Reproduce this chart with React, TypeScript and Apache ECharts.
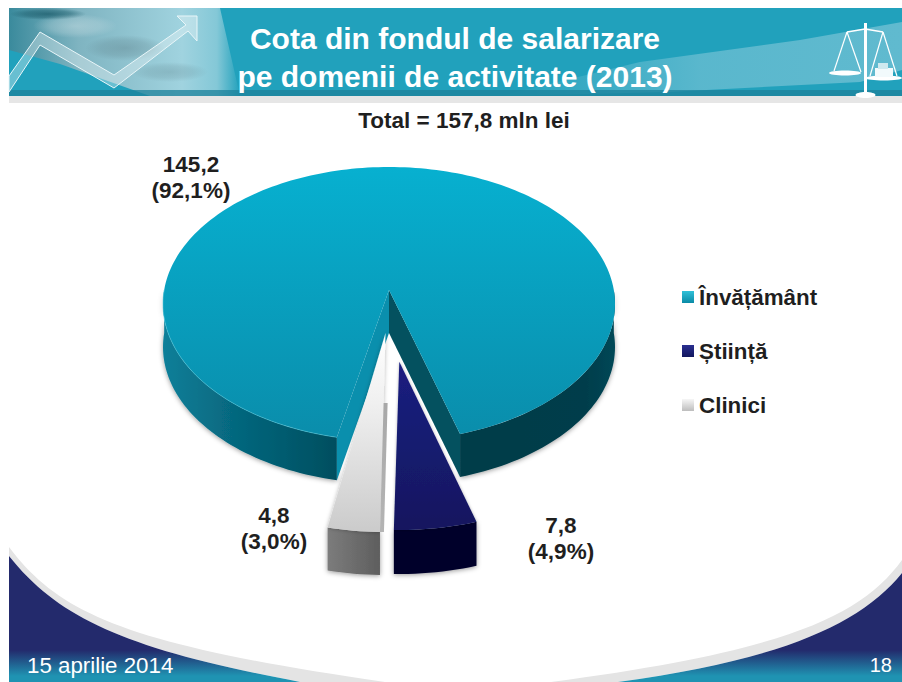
import React, { useEffect, useRef } from "react";
import * as echarts from "echarts";

const categories = ["Învățământ", "Știință", "Clinici"];
const values = [145.2, 7.8, 4.8];
const shareLabels = ["92,1%", "4,9%", "3,0%"];
const valueLabels = ["145,2", "7,8", "4,8"];
const titleLines = ["Cota din fondul de salarizare", "pe domenii de activitate (2013)"];
const subtitle = "Total = 157,8 mln lei";
const footerDate = "15 aprilie 2014";
const footerPage = "18";

const FONT = '"Liberation Sans", Arial, sans-serif';
const START_ANGLE = 192.1;
const RX = 226;
const RY = 137;

const sliceLayout = [
  { ax: 389, ay: 290, cy: 304, squash: 0.606, h: 43 },
  { ax: 399.3, ay: 361.7, cy: 393, squash: 0.62, h: 44 },
  { ax: 385.5, ay: 333, cy: 395, squash: 0.72, h: 43 },
];
const labelPos = [
  { x: 191, y: 177 },
  { x: 561, y: 538 },
  { x: 274, y: 528 },
];

const lin = (x: number, y: number, x2: number, y2: number, stops: [number, string][]) => ({
  type: "linear",
  x,
  y,
  x2,
  y2,
  colorStops: stops.map(([offset, color]) => ({ offset, color })),
});
const glow = (color: string, a: number) => ({
  type: "radial",
  x: 0.5,
  y: 0.5,
  r: 0.5,
  colorStops: [
    { offset: 0, color: `rgba(${color},${a})` },
    { offset: 0.6, color: `rgba(${color},${a * 0.6})` },
    { offset: 1, color: `rgba(${color},0)` },
  ],
});

const topFills = [
  lin(0, 0, 0, 1, [[0, "#07b0d0"], [1, "#0a8dab"]]),
  lin(0, 0, 0, 1, [[0, "#1b1f80"], [1, "#12175f"]]),
  lin(0, 0, 0, 1, [[0, "#ffffff"], [0.35, "#f0f0f0"], [1, "#cbcbcb"]]),
];
const legendFills = [
  lin(0, 0, 0, 1, [[0, "#30c0d8"], [1, "#0a8aa6"]]),
  lin(0, 0, 0, 1, [[0, "#2a2f90"], [1, "#12175f"]]),
  lin(0, 0, 0, 1, [[0, "#f6f6f6"], [1, "#bdbdbd"]]),
];

const total = values.reduce((a, b) => a + b, 0);

function rim(i: number, deg: number): [number, number] {
  const s = sliceLayout[i];
  const r = (deg * Math.PI) / 180;
  const dx = Math.sin(r);
  const dy = -Math.cos(r) * s.squash;
  const oy = s.ay - s.cy;
  const A = (dx * dx) / (RX * RX) + (dy * dy) / (RY * RY);
  const B = (2 * oy * dy) / (RY * RY);
  const C = (oy * oy) / (RY * RY) - 1;
  const t = (-B + Math.sqrt(B * B - 4 * A * C)) / (2 * A);
  return [s.ax + t * dx, s.ay + t * dy];
}

function arc(i: number, a: number, b: number): [number, number][] {
  const out: [number, number][] = [];
  const n = Math.max(2, Math.ceil((b - a) / 1.5));
  for (let k = 0; k <= n; k++) out.push(rim(i, a + ((b - a) * k) / n));
  return out;
}

function wall(i: number, a: number, b: number): number[][] {
  const h = sliceLayout[i].h;
  const top = arc(i, a, b);
  return [...top, ...top.slice().reverse().map(([x, y]) => [x, y + h])];
}

const shadow = { shadowColor: "rgba(0,0,0,0.4)", shadowBlur: 5, shadowOffsetY: 1 };

function renderSlice(i: number) {
  return (_params: any, api: any) => {
    let before = 0;
    for (let k = 0; k < i; k++) before += values[k];
    const from = START_ANGLE + (before / total) * 360;
    const to = from + (Number(api.value(0)) / total) * 360;
    const s = sliceLayout[i];
    const children: any[] = [];
    const poly = (points: number[][], style: any) =>
      children.push({ type: "polygon", shape: { points }, style });

    if (i === 0) {
      const end = to;
      const endPt = rim(0, end);
      const startPt = rim(0, from);
      poly(wall(0, from, 270), { fill: lin(0, 0, 1, 0, [[0, "#0c7f99"], [0.4, "#06687f"], [1, "#024e5f"]]), ...shadow });
      poly(wall(0, 450, end), { fill: lin(0, 0, 1, 0, [[0, "#033c49"], [0.8, "#033d4b"], [1, "#044756"]]), ...shadow });
      poly(
        [[s.ax, s.ay], startPt, [startPt[0], startPt[1] + s.h], [s.ax, s.ay + s.h]],
        { fill: "#0a8fad" }
      );
      poly(
        [[s.ax, s.ay], endPt, [endPt[0], endPt[1] + s.h], [s.ax, s.ay + s.h]],
        { fill: "#04515f" }
      );
      poly([[s.ax, s.ay], ...arc(0, from, to)], { fill: topFills[0] });
      children.push({
        type: "polyline",
        shape: { points: arc(0, from, 270) },
        style: { stroke: "rgba(80,200,220,0.55)", lineWidth: 1, fill: "none" },
      });
    } else {
      poly(wall(i, from, to), {
        fill: i === 1 ? lin(0, 0, 1, 0, [[0, "#04042c"], [1, "#03032a"]]) : lin(0, 0, 1, 0, [[0, "#7c7c7c"], [1, "#5e5e5e"]]),
        ...shadow,
      });
      poly([[s.ax, s.ay], ...arc(i, from, to)], { fill: topFills[i], ...(i === 2 ? { shadowColor: "rgba(0,0,0,0.3)", shadowBlur: 4 } : { shadowColor: "rgba(0,0,0,0.3)", shadowBlur: 3 }) });
      if (i === 2) {
        const c = rim(2, from);
        poly(
          [[383.6, 403], [387.6, 403], [c[0] + 4, c[1]], c],
          { fill: lin(0, 0, 0, 1, [[0, "#a8a8a8"], [1, "#b4b4b4"]]) }
        );
      }
    }
    children.push({
      type: "text",
      style: {
        text: `${valueLabels[i]}\n(${shareLabels[i]})`,
        x: labelPos[i].x,
        y: labelPos[i].y,
        align: "center",
        verticalAlign: "middle",
        fontFamily: FONT,
        fontWeight: "bold",
        fontSize: 22.5,
        lineHeight: 26,
        fill: "#1f1f1f",
      },
    });
    return { type: "group", children };
  };
}

echarts.graphic.registerShape("cornerLeft", echarts.graphic.extendPath("M9 556 C60 620 130 650 300 682 L9 682 Z", {}) as any);
echarts.graphic.registerShape("edgeLeft", echarts.graphic.extendPath("M9 547 C60 615 130 645 385 682 L300 682 C130 650 60 620 9 556 Z", {}) as any);
echarts.graphic.registerShape("cornerRight", echarts.graphic.extendPath("M902 573 C860 625 780 660 618 682 L902 682 Z", {}) as any);
echarts.graphic.registerShape("edgeRight", echarts.graphic.extendPath("M902 560 C860 618 780 652 551 682 L618 682 C780 660 860 625 902 573 Z", {}) as any);

const footerFill = { type: "linear", global: true, x: 0, y: 650, x2: 0, y2: 676, colorStops: [{ offset: 0, color: "#232a6c" }, { offset: 1, color: "#1f93b2" }] };

function txt(text: string, x: number, y: number, size: number, weight: string, fill: string, align = "center") {
  return {
    type: "text",
    z: 5,
    style: { text, x, y, align, verticalAlign: "middle", fontFamily: FONT, fontWeight: weight, fontSize: size, fill },
  };
}

const line = (pts: number[][], w = 1.2) => ({
  type: "polyline",
  z: 3,
  shape: { points: pts },
  style: { stroke: "#fff", lineWidth: w, fill: "none" },
});

const backdrop: any[] = [
  { type: "rect", z: 0, shape: { x: 9, y: 8, width: 893, height: 88 }, style: { fill: "#21a1bc" } },
  { type: "polygon", z: 1, shape: { points: [[500, 96], [668, 92], [860, 82], [902, 70], [902, 22], [800, 40], [640, 62]] }, style: { fill: lin(0, 0, 1, 0, [[0, "rgba(96,186,207,0)"], [0.5, "rgba(96,186,207,0.9)"], [1, "rgba(96,186,207,1)"]]) } },
  { type: "polygon", z: 1, shape: { points: [[9, 8], [220, 8], [240, 96], [150, 96], [60, 64], [9, 50]] }, style: { fill: lin(0, 0, 1, 0, [[0, "#3a8a9c"], [0.3, "#7fb4c1"], [0.75, "#a0d3df"], [0.9, "#84c8d7"], [1, "#21a1bc"]]) } },
  { type: "ellipse", z: 1, shape: { cx: 48, cy: 14, rx: 38, ry: 6 }, style: { fill: glow("20,85,100", 0.7) } },
  { type: "ellipse", z: 1, shape: { cx: 75, cy: 26, rx: 42, ry: 12 }, style: { fill: glow("205,225,230", 0.45) } },
  { type: "ellipse", z: 1, shape: { cx: 125, cy: 48, rx: 40, ry: 13 }, style: { fill: glow("90,125,135", 0.4) } },
  { type: "ellipse", z: 1, shape: { cx: 170, cy: 72, rx: 38, ry: 10 }, style: { fill: glow("100,140,150", 0.35) } },
  { type: "rect", z: 2, shape: { x: 9, y: 90, width: 893, height: 6 }, style: { fill: "rgba(30,130,155,0.75)" } },
  { type: "rect", z: 2, shape: { x: 9, y: 96, width: 893, height: 7 }, style: { fill: "#e6e6e6" } },
  {
    type: "polygon",
    z: 3,
    shape: { points: [[9, 76], [40, 32], [114, 75], [186, 25], [177, 16], [197, 16], [197, 41], [188, 31], [114, 88], [40, 45], [9, 92]] },
    style: { fill: "rgba(255,255,255,0.32)", stroke: "#e8f6f9", lineWidth: 1 },
  },
  // scales icon
  { type: "rect", z: 3, shape: { x: 864, y: 23, width: 3, height: 72 }, style: { fill: "#fff" } },
  { type: "ellipse", z: 3, shape: { cx: 865.5, cy: 95, rx: 10, ry: 3 }, style: { fill: "#fff" } },
  line([[847, 32], [865, 29], [883, 32]], 1.5),
  line([[847, 32], [834, 71]]),
  line([[847, 32], [861, 72]]),
  line([[883, 32], [870, 76]]),
  line([[883, 32], [897, 76]]),
  { type: "ellipse", z: 3, shape: { cx: 845, cy: 73, rx: 16, ry: 2.5 }, style: { fill: "#fff" } },
  { type: "ellipse", z: 3, shape: { cx: 884, cy: 78, rx: 18, ry: 2.5 }, style: { fill: "#fff" } },
  { type: "rect", z: 3, shape: { x: 875, y: 68, width: 18, height: 9 }, style: { fill: "#f2fafc" } },
  { type: "rect", z: 3, shape: { x: 878, y: 63, width: 10, height: 6 }, style: { fill: "#cfe9ef" } },
  // footer corners
  { type: "edgeLeft", z: 1, style: { fill: "#e4e4e4" } },
  { type: "edgeRight", z: 1, style: { fill: "#e4e4e4" } },
  { type: "cornerLeft", z: 2, style: { fill: footerFill } },
  { type: "cornerRight", z: 2, style: { fill: footerFill } },
  txt(titleLines[0], 455, 38, 30, "bold", "#ffffff"),
  txt(titleLines[1], 455, 76, 30, "bold", "#ffffff"),
  txt(subtitle, 464, 120, 22.5, "bold", "#1f1f1f"),
  txt(footerDate, 27, 665, 22.3, "normal", "#ffffff", "left"),
  txt(footerPage, 892, 665, 20, "normal", "#ffffff", "right"),
];

export default function App() {
  const ref = useRef<HTMLDivElement>(null);
  useEffect(() => {
    const chart = echarts.init(ref.current!, undefined, { renderer: "svg" });
    chart.setOption({
      animation: false,
      backgroundColor: "#ffffff",
      graphic: { elements: backdrop },
      legend: {
        orient: "vertical",
        left: 682,
        top: 285,
        padding: 0,
        itemWidth: 12,
        itemHeight: 12,
        itemGap: 30,
        icon: "rect",
        selectedMode: false,
        textStyle: { fontFamily: FONT, fontWeight: "bold", fontSize: 22.4, color: "#1f1f1f", lineHeight: 24 },
        data: categories.map((name, i) => ({
          name,
          itemStyle: { color: legendFills[i], borderWidth: 0 },
        })),
      },
      series: categories.map((name, i) => ({
        type: "custom",
        name,
        coordinateSystem: "none",
        silent: true,
        data: [[values[i]]],
        renderItem: renderSlice(i),
        z: 2 + i,
      })),
    });
    return () => chart.dispose();
  }, []);
  return <div ref={ref} style={{ position: "absolute", left: 0, top: 0, width: 902, height: 682 }} />;
}
